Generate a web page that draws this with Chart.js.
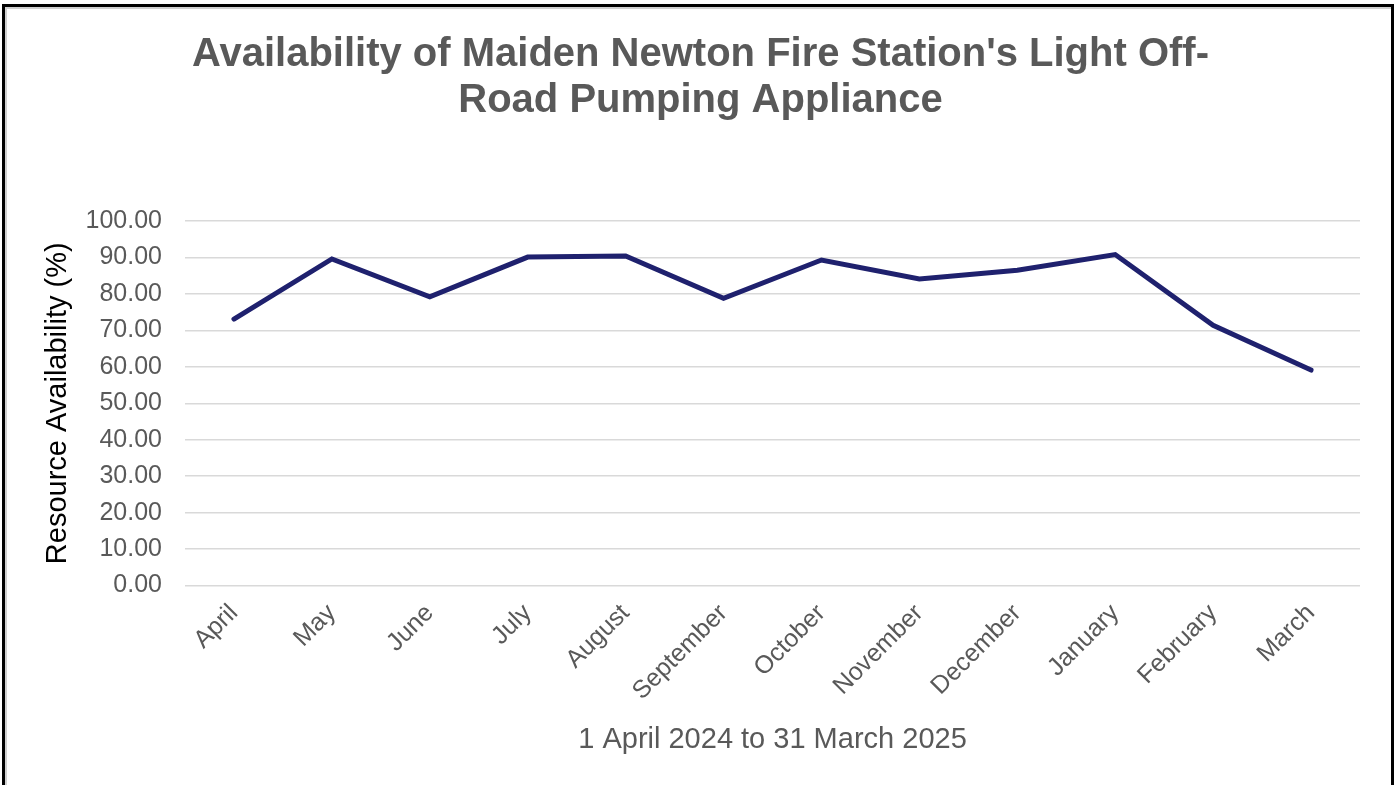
<!DOCTYPE html>
<html lang="en">
<head>
    <meta charset="UTF-8">
    <title>Maiden Newton LOPA Availability</title>
    <style>
        html, body { margin: 0; padding: 0; background: #fff; }
        .wrap { position: relative; width: 1397px; height: 785px; }
        .frame {
            position: absolute; left: 2px; top: 4px; width: 1386px; height: 790px;
            border: 3px solid #000; border-bottom: none;
            box-shadow: inset 2px 2px 0 #d0d0d0;
            pointer-events: none;
        }
    </style>
</head>
<body>
    <div class="wrap">
        <canvas id="availChart" width="1397" height="785"></canvas>
        <div class="frame"></div>
    </div>

    <script src="https://cdn.jsdelivr.net/npm/chart.js"></script>
    <script>
        const months = ['April', 'May', 'June', 'July', 'August', 'September',
                        'October', 'November', 'December', 'January', 'February', 'March'];
        const availability = [73.1, 89.6, 79.2, 90.1, 90.4, 78.8, 89.3, 84.1, 86.5, 90.8, 71.4, 59.1];
        const titleLines = ["Availability of Maiden Newton Fire Station's Light Off-", 'Road Pumping Appliance'];

        const grey = '#595959';
        const font = 'Liberation Sans, Arial, sans-serif';

        const ctx = document.getElementById('availChart').getContext('2d');
        const availChart = new Chart(ctx, {
            type: 'line',
            data: {
                labels: months,
                datasets: [{
                    label: 'Availability',
                    data: availability,
                    borderColor: '#1f216e',
                    borderWidth: 5,
                    pointRadius: 0,
                    tension: 0,
                    fill: false,
                    borderCapStyle: 'round'
                }]
            },
            options: {
                responsive: false,
                animation: false,
                layout: { padding: { left: 41, right: 37, top: 0, bottom: 24 } },
                plugins: {
                    legend: { display: false },
                    tooltip: { enabled: false },
                    title: {
                        display: true,
                        text: titleLines,
                        color: grey,
                        font: { family: font, size: 40, weight: 'bold', lineHeight: 1.15 },
                        padding: { top: 32, bottom: 97 }
                    }
                },
                scales: {
                    x: {
                        offset: true,
                        grid: { display: false },
                        border: { display: false },
                        // rotated first label should not push the plot area right
                        afterFit: s => { s.paddingLeft = 0; },
                        ticks: {
                            color: grey,
                            font: { family: font, size: 25 },
                            minRotation: 45,
                            maxRotation: 45,
                            padding: 5
                        },
                        title: {
                            display: true,
                            text: '1 April 2024 to 31 March 2025',
                            color: grey,
                            font: { family: font, size: 29 },
                            padding: { top: 11 }
                        }
                    },
                    y: {
                        min: 0,
                        max: 100,
                        afterFit: s => { s.width = 144; },
                        ticks: {
                            stepSize: 10,
                            color: grey,
                            font: { family: font, size: 25 },
                            padding: 23,
                            callback: v => v.toFixed(2)
                        },
                        grid: { color: '#d9d9d9', lineWidth: 1.5, drawTicks: false },
                        border: { display: false },
                        title: {
                            display: true,
                            text: 'Resource Availability (%)',
                            color: '#000',
                            font: { family: font, size: 29 },
                            padding: { top: 0, bottom: 10 }
                        }
                    }
                }
            }
        });
    </script>
</body>
</html>
